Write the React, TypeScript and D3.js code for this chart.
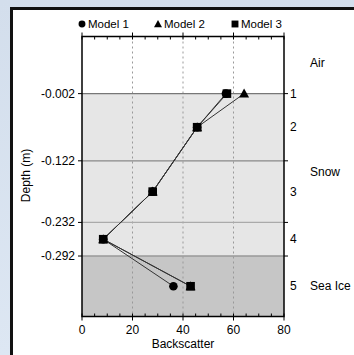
import React from "react";
import * as d3 from "d3";

const depthTicks = [-0.002, -0.122, -0.232, -0.292];
const layerIds = ["1", "2", "3", "4", "5"];
const layerDepths = [-0.002, -0.062, -0.177, -0.262, -0.346];
const model1 = [57, 45.6, 28, 8.4, 36.2];
const model2 = [64.2, 45.6, 28, 8.4, 43];
const model3 = [57.4, 45.6, 28, 8.4, 43];
const xTicks = [0, 20, 40, 60, 80];
const regionNames = ["Air", "Snow", "Sea Ice"];
const regionLabelDepths = [0.053, -0.142, -0.346];

const W = 354, H = 355;
const x = d3.scaleLinear().domain([0, 80]).range([82, 284]);
const y = d3.scaleLinear().domain([0.1, -0.4]).range([36.5, 316.5]);
const font = "Liberation Sans, Arial, Helvetica, sans-serif";

function Marker({ kind, cx, cy, s = 1 }: { kind: string; cx: number; cy: number; s?: number }) {
  if (kind === "circle") return <circle cx={cx} cy={cy} r={4.3 * s} fill="#000" />;
  if (kind === "triangle") {
    const r = 5 * s;
    return <path d={`M${cx},${cy - r}L${cx + r},${cy + r * 0.8}L${cx - r},${cy + r * 0.8}Z`} fill="#000" />;
  }
  return <rect x={cx - 4.3 * s} y={cy - 4.3 * s} width={8.6 * s} height={8.6 * s} fill="#000" />;
}

export default function App() {
  const line = d3.line<number>().x((v) => x(v)).y((_, i) => y(layerDepths[i]));
  const series = [
    { name: "Model 1", kind: "circle", values: model1 },
    { name: "Model 2", kind: "triangle", values: model2 },
    { name: "Model 3", kind: "square", values: model3 },
  ];
  const minor = d3.range(0, 81, 5).filter((v) => v % 20 !== 0);
  const [top, bottom] = y.range();
  const [left, right] = x.range();
  const lineColors = ["#777", "#888", "#aaa", "#999"];
  const legendX = [82, 158, 235];
  return (
    <svg width={W} height={H} style={{ position: "absolute", left: 0, top: 0 }} fontFamily={font}>
      <defs>
        <linearGradient id="bg" x1="0" y1="0" x2="0" y2="1">
          <stop offset="0" stopColor="#d3deec" />
          <stop offset="1" stopColor="#dde7f3" />
        </linearGradient>
      </defs>
      <rect width={W} height={H} fill="url(#bg)" />
      <rect x={11.5} y={8.5} width={W + 20} height={H + 20} fill="#fff" stroke="#111" strokeWidth={3} />
      {/* regions */}
      <rect x={left} y={y(-0.002)} width={right - left} height={y(-0.292) - y(-0.002)} fill="#e6e6e6" />
      <rect x={left} y={y(-0.292)} width={right - left} height={bottom - y(-0.292)} fill="#c6c6c6" />
      {/* grid */}
      {xTicks.slice(1, -1).map((t) => (
        <line key={t} x1={x(t)} x2={x(t)} y1={top} y2={bottom} stroke="#999" strokeWidth={1} strokeDasharray="2,3" />
      ))}
      {depthTicks.map((d, i) => (
        <line key={d} x1={left} x2={right} y1={y(d)} y2={y(d)} stroke={lineColors[i]} strokeWidth={1.3} />
      ))}
      {/* lines */}
      {series.map((s) => (
        <path key={s.name} d={line(s.values) || ""} fill="none" stroke="#333" strokeWidth={1} />
      ))}
      {series.map((s) =>
        s.values.map((v, i) => <Marker key={s.name + i} kind={s.kind} cx={x(v)} cy={y(layerDepths[i])} />)
      )}
      {/* frame */}
      <rect x={left} y={top} width={right - left} height={bottom - top} fill="none" stroke="#000" strokeWidth={1.5} />
      {/* x ticks */}
      {xTicks.map((t) => (
        <g key={t}>
          <line x1={x(t)} x2={x(t)} y1={bottom} y2={bottom + 4} stroke="#000" />
          <line x1={x(t)} x2={x(t)} y1={top} y2={top - 4} stroke="#000" />
          <line x1={x(t)} x2={x(t)} y1={bottom} y2={bottom - 3} stroke="#000" />
          <line x1={x(t)} x2={x(t)} y1={top} y2={top + 3} stroke="#000" />
          <text x={x(t)} y={bottom + 17} textAnchor="middle" fontSize={12}>{t}</text>
        </g>
      ))}
      {minor.map((t) => (
        <g key={t}>
          <line x1={x(t)} x2={x(t)} y1={bottom} y2={bottom - 3} stroke="#000" />
          <line x1={x(t)} x2={x(t)} y1={top} y2={top + 3} stroke="#000" />
        </g>
      ))}
      <text x={(left + right) / 2} y={bottom + 31} textAnchor="middle" fontSize={12}>Backscatter</text>
      {/* y ticks */}
      {depthTicks.map((d) => (
        <g key={d}>
          <line x1={left - 4} x2={left} y1={y(d)} y2={y(d)} stroke="#000" />
          <line x1={right} x2={right + 4} y1={y(d)} y2={y(d)} stroke="#000" />
          <text x={left - 7} y={y(d) + 4} textAnchor="end" fontSize={12}>{d.toFixed(3)}</text>
        </g>
      ))}
      <text transform={`translate(30,${(top + bottom) / 2 - 1}) rotate(-90)`} textAnchor="middle" fontSize={12}>Depth (m)</text>
      {layerIds.map((id, i) => (
        <text key={id} x={right + 6} y={y(layerDepths[i]) + 4} fontSize={12}>{id}</text>
      ))}
      {regionNames.map((n, i) => (
        <text key={n} x={310} y={y(regionLabelDepths[i]) + 4} fontSize={12}>{n}</text>
      ))}
      {/* legend */}
      {series.map((s, i) => (
        <g key={s.name}>
          <Marker kind={s.kind} cx={legendX[i]} cy={24} s={0.8} />
          <text x={legendX[i] + 6} y={28} fontSize={11.5}>{s.name}</text>
        </g>
      ))}
    </svg>
  );
}
